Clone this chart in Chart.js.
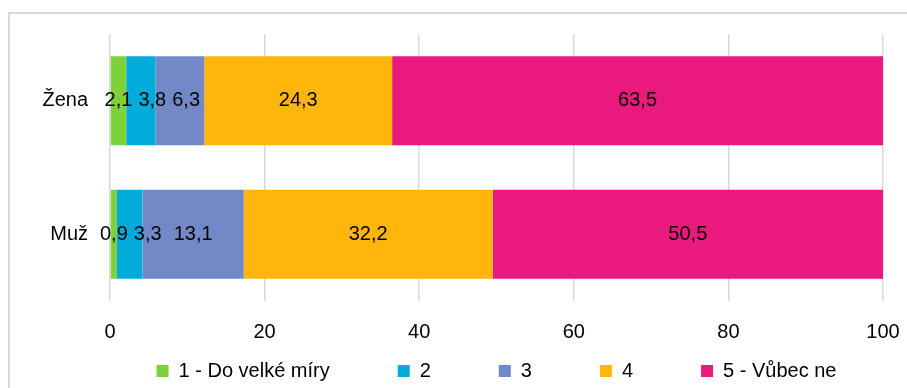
<!DOCTYPE html>
<html lang="cs">
<head>
  <meta charset="UTF-8">
  <title>Graf</title>
  <script src="https://cdn.jsdelivr.net/npm/chart.js"></script>
  <style>
    html, body { margin: 0; padding: 0; background: #fff; }
    .wrap { position: relative; width: 907px; height: 388px; overflow: hidden; }
    .frame { position: absolute; left: 8px; top: 12px; right: -10px; bottom: -10px;
             border-left: 2px solid #d9d9d9; border-top: 2px solid #d9d9d9; }
    canvas { position: absolute; left: 0; top: 0; }
  </style>
</head>
<body>
  <div class="wrap">
    <div class="frame"></div>
    <canvas id="chart" width="907" height="388"></canvas>
  </div>

  <script>
    const categories = ['Žena', 'Muž'];
    const seriesNames = ['1 - Do velké míry', '2', '3', '4', '5 - Vůbec ne'];
    const s1 = [2.1, 0.9];
    const s2 = [3.8, 3.3];
    const s3 = [6.3, 13.1];
    const s4 = [24.3, 32.2];
    const s5 = [63.5, 50.5];
    const xTicks = [0, 20, 40, 60, 80, 100];

    const colors = ['#7ED13B', '#00ABDB', '#7288C7', '#FFB50A', '#E9197D'];
    const fontFamily = '"Liberation Sans", Arial, sans-serif';
    const fontSize = 20;

    Chart.defaults.font.family = fontFamily;
    Chart.defaults.font.size = fontSize;
    Chart.defaults.color = '#000';

    // values in the middle of each segment, pushed right when they would collide
    const valueLabels = {
      id: 'valueLabels',
      afterDatasetsDraw(chart) {
        const ctx = chart.ctx;
        ctx.save();
        ctx.font = fontSize + 'px ' + fontFamily;
        ctx.fillStyle = '#000';
        ctx.textAlign = 'center';
        ctx.textBaseline = 'middle';
        const lastRight = {};
        chart.data.datasets.forEach((ds, i) => {
          chart.getDatasetMeta(i).data.forEach((bar, j) => {
            const txt = ds.data[j].toFixed(1).replace('.', ',');
            const w = ctx.measureText(txt).width;
            let x = (bar.x + bar.base) / 2;
            if (lastRight[j] !== undefined && x - w / 2 < lastRight[j] + 6) {
              x = lastRight[j] + 6 + w / 2;
            }
            lastRight[j] = x + w / 2;
            ctx.fillText(txt, x, bar.y);
          });
        });
        ctx.restore();
      }
    };

    // legend on one row, centred under the plot area, like in Excel
    const legendPlace = {
      id: 'legendPlace',
      afterLayout(chart) {
        const lg = chart.legend;
        lg.maxWidth = 2000;
        lg.fit();
        lg.left = chart.chartArea.left - 300;
        lg.right = chart.chartArea.right + 300;
        lg.top = 361 - lg.options.labels.padding;
      }
    };

    const datasets = [s1, s2, s3, s4, s5].map((values, i) => ({
      label: seriesNames[i],
      data: values,
      backgroundColor: colors[i],
      borderWidth: 0,
      categoryPercentage: 0.667,
      barPercentage: 1
    }));

    new Chart(document.getElementById('chart'), {
      type: 'bar',
      data: { labels: categories, datasets: datasets },
      plugins: [valueLabels, legendPlace],
      options: {
        indexAxis: 'y',
        responsive: false,
        animation: false,
        devicePixelRatio: 1,
        layout: { padding: { top: 34, right: 24, bottom: 0, left: 0 } },
        plugins: {
          legend: {
            position: 'bottom',
            maxHeight: 37,
            labels: {
              boxWidth: 12,
              boxHeight: 12,
              padding: 68,
              font: { size: fontSize },
              color: '#000'
            }
          },
          tooltip: { enabled: false }
        },
        scales: {
          x: {
            stacked: true,
            min: 0,
            max: 100,
            afterBuildTicks: (scale) => { scale.ticks = xTicks.map(v => ({ value: v })); },
            afterFit: (scale) => {
              scale.height = 50;
              scale.paddingLeft = 0;
              scale.paddingRight = 0;
            },
            grid: { color: '#d9d9d9', lineWidth: 1.5, drawTicks: false },
            border: { display: false },
            ticks: { padding: 19, font: { size: fontSize }, color: '#000' }
          },
          y: {
            stacked: true,
            afterFit: (scale) => {
              scale.width = 110;
              scale.paddingTop = 0;
              scale.paddingBottom = 0;
            },
            grid: { display: false, drawTicks: false },
            border: { display: false },
            ticks: { padding: 22, font: { size: fontSize }, color: '#000' }
          }
        }
      }
    });
  </script>
</body>
</html>
